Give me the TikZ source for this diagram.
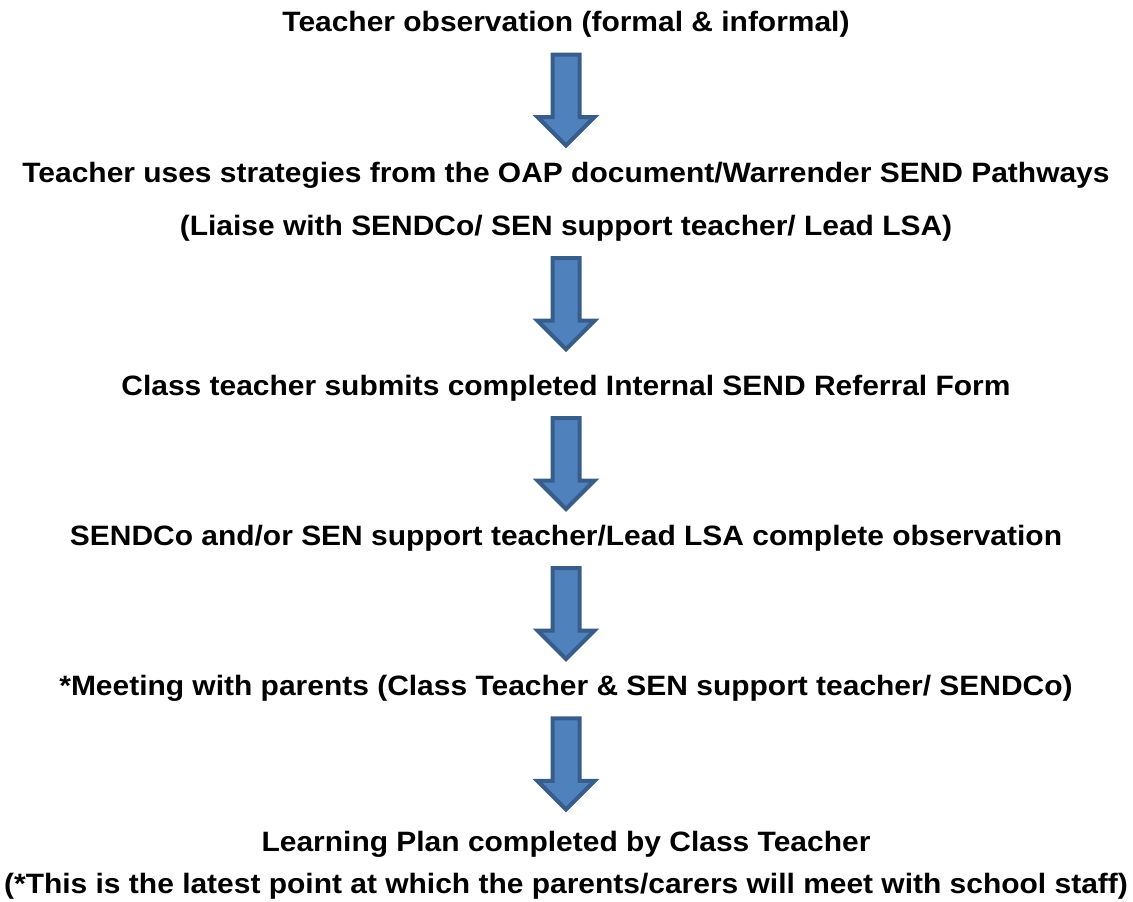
\documentclass[tikz,border=0pt]{standalone}
\usepackage{fontspec}
\setmainfont[FakeStretch=1.07]{Liberation Sans}
\usetikzlibrary{shapes.arrows}
\definecolor{arrowfill}{HTML}{4F81BD}
\definecolor{arrowedge}{HTML}{385D8A}

\begin{document}
\begin{tikzpicture}[
    x=1pt, y=-1pt,
    steptext/.style={anchor=base, inner sep=0pt, font=\fontsize{28}{32}\selectfont\bfseries},
    downarrow/.style={single arrow, draw=arrowedge, fill=arrowfill, line width=4pt,
        shape border rotate=270, minimum height=91pt, minimum width=54pt,
        inner xsep=11.5pt, inner ysep=0pt, single arrow head extend=15pt,
        single arrow tip angle=90, yshift=6pt}
]
\useasboundingbox (0,0) rectangle (1133,902);

% Etapas
\node[steptext] (obs) at (566,31) {Teacher observation (formal \& informal)};
\node[steptext] (uses) at (566,182) {Teacher uses strategies from the OAP document/Warrender SEND Pathways};
\node[steptext] (liaise) at (566,235) {(Liaise with SENDCo/ SEN support teacher/ Lead LSA)};
\node[steptext] (referral) at (566,395) {Class teacher submits completed Internal SEND Referral Form};
\node[steptext] (observe) at (566,545) {SENDCo and/or SEN support teacher/Lead LSA complete observation};
\node[steptext] (meeting) at (566,695) {*Meeting with parents (Class Teacher \& SEN support teacher/ SENDCo)};
\node[steptext] (plan) at (566,851) {Learning Plan completed by Class Teacher};
\node[steptext] (note) at (566,893) {(*This is the latest point at which the parents/carers will meet with school staff)};

% Setas
\path (obs) -- node[downarrow, midway] (arrow1) {} (uses);
\path (liaise) -- node[downarrow, pos=0.464] (arrow2) {} (referral);
\path (referral) -- node[downarrow, midway] (arrow3) {} (observe);
\path (observe) -- node[downarrow, midway] (arrow4) {} (meeting);
\path (meeting) -- node[downarrow, pos=0.48] (arrow5) {} (plan);

\end{tikzpicture}
\end{document}
